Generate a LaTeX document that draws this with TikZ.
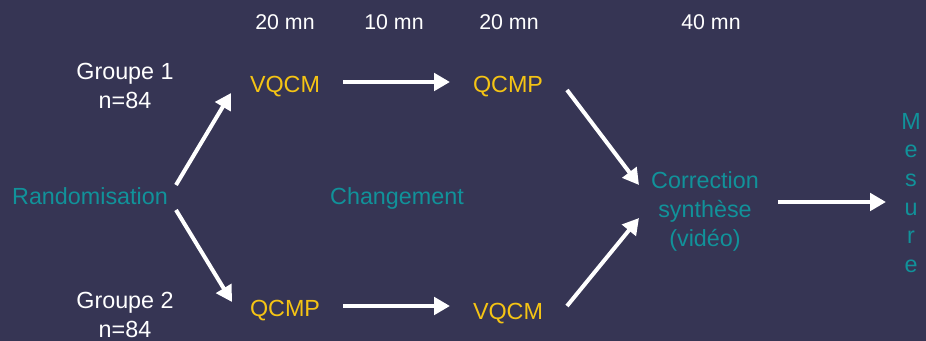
\documentclass[tikz,border=0pt]{standalone}
\usepackage{fontspec}
\setmainfont{Liberation Sans}
\usetikzlibrary{calc,arrows.meta}

\definecolor{fond}{RGB}{54,53,84}
\definecolor{sarcelle}{RGB}{17,146,154}
\definecolor{jaune}{RGB}{245,196,20}

\tikzset{
  duree/.style={text=white, font=\fontsize{16}{19}\selectfont, anchor=base, inner sep=0pt},
  etape/.style={text=jaune, font=\fontsize{17.5}{21.75}\selectfont, anchor=base, inner sep=0pt},
  titre/.style={text=sarcelle, font=\fontsize{17.5}{21.75}\selectfont, align=center, inner sep=0pt},
  groupe/.style={text=white, font=\fontsize{17.5}{21.75}\selectfont, align=center, inner sep=0pt},
  fleche/.style={draw=white, line width=3pt, -{Triangle[length=12pt,width=13pt]}}
}

\begin{document}
\begin{tikzpicture}[x=0.75pt,y=-0.75pt]
  % background
  \fill[fond] (0,0) rectangle (926,341);
  \useasboundingbox (0,0) rectangle (926,341);

  % durations on top
  \foreach \t/\x in {20/285, 10/394, 20/509, 40/711}
    \node[duree] (d\x) at (\x,29.5) {\t\ mn};

  % groups
  \node[groupe] (g1) at (125,86) {Groupe 1\\n=84};
  \node[groupe] (g2) at (125,315) {Groupe 2\\n=84};

  % steps
  \node[titre, anchor=base] (rand) at (90,205) {Randomisation};
  \node[titre, anchor=base] (chg)  at (397,205) {Changement};
  \node[etape] (vqcm1) at (285,93)  {VQCM};
  \node[etape] (qcmp2) at (508,93)  {QCMP};
  \node[etape] (qcmp1) at (285,317) {QCMP};
  \node[etape] (vqcm2) at (508,320) {VQCM};
  \node[titre] (corr) at (705,211) {Correction\\synthèse\\(vidéo)};
  \node[titre, font=\fontsize{17.5}{21.5}\selectfont] (mes) at (911,193) {M\\e\\s\\u\\r\\e};

  % arrows
  \draw[fleche] ($(rand.base)+(86,-20)$) -- ($(vqcm1.base)+(-54,0)$);
  \draw[fleche] ($(rand.base)+(86,5)$)   -- ($(qcmp1.base)+(-53,-15)$);
  \draw[fleche] ($(vqcm1.base)+(58,-11)$) -- ($(qcmp2.base)+(-58,-11)$);
  \draw[fleche] ($(qcmp1.base)+(58,-11)$) -- ($(vqcm2.base)+(-58,-14)$);
  \draw[fleche] ($(qcmp2.base)+(59,-3)$)  -- ($(corr)+(-66,-26)$);
  \draw[fleche] ($(vqcm2.base)+(59,-14)$) -- ($(corr)+(-66,7)$);
  \draw[fleche] ($(corr)+(73,-9)$) -- ($(mes)+(-25,9)$);
\end{tikzpicture}
\end{document}
